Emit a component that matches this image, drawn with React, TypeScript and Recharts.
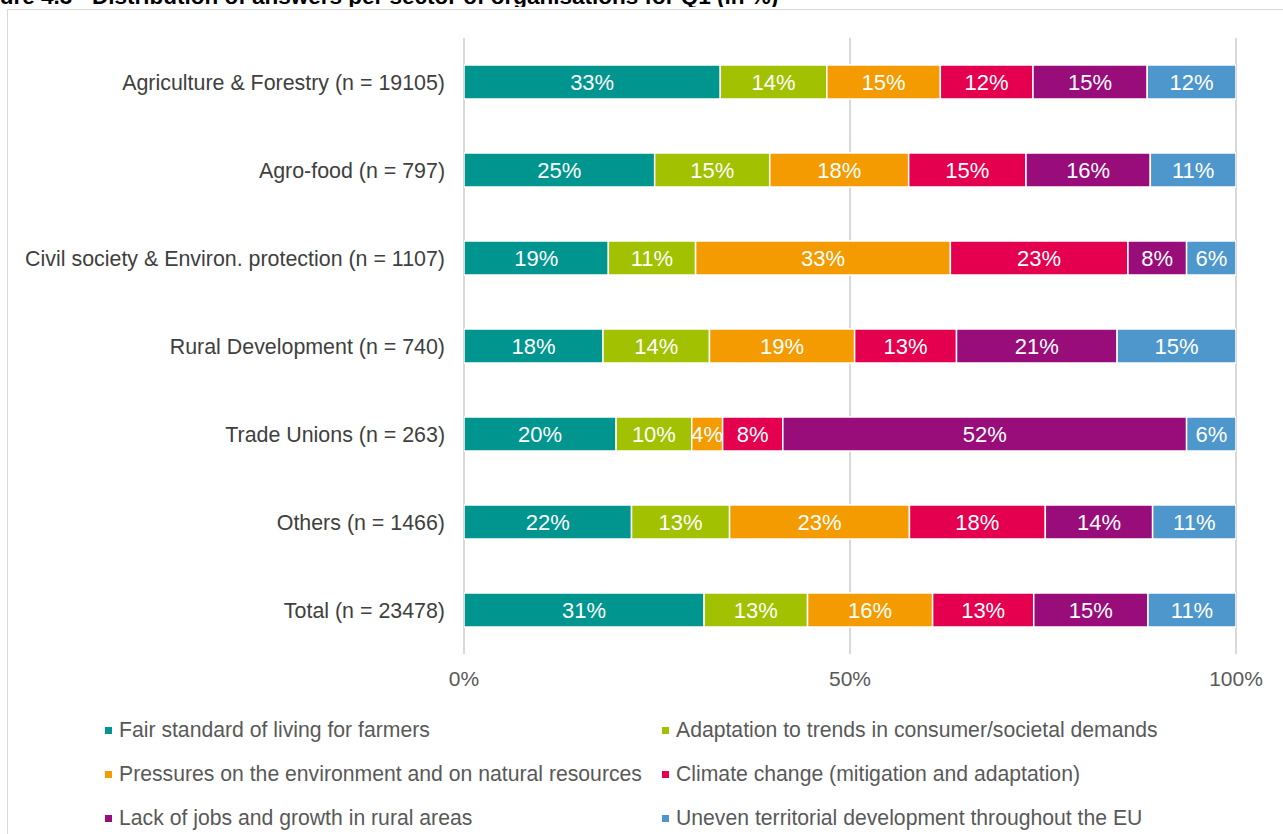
import { BarChart, Bar, XAxis, YAxis, CartesianGrid, LabelList } from 'recharts'

const categories = [
  'Agriculture & Forestry (n = 19105)',
  'Agro-food (n = 797)',
  'Civil society & Environ. protection (n = 1107)',
  'Rural Development (n = 740)',
  'Trade Unions (n = 263)',
  'Others (n = 1466)',
  'Total (n = 23478)',
]

const fairLiving = [33.2, 24.7, 18.7, 18.0, 19.7, 21.7, 31.1]
const adaptation = [13.8, 14.9, 11.3, 13.8, 9.8, 12.7, 13.4]
const pressures = [14.7, 18.0, 33.0, 18.8, 4.0, 23.3, 16.2]
const climate = [12.0, 15.2, 23.0, 13.2, 7.8, 17.6, 13.1]
const jobs = [14.8, 16.1, 7.6, 20.8, 52.3, 13.9, 14.8]
const uneven = [11.5, 11.1, 6.4, 15.4, 6.4, 10.8, 11.4]

const xTicks = [0, 50, 100]

const series = [
  { key: 'fair', name: 'Fair standard of living for farmers', color: '#00968f', values: fairLiving },
  { key: 'adapt', name: 'Adaptation to trends in consumer/societal demands', color: '#a2c100', values: adaptation },
  { key: 'press', name: 'Pressures on the environment and on natural resources', color: '#f39b00', values: pressures },
  { key: 'climate', name: 'Climate change (mitigation and adaptation)', color: '#e4004e', values: climate },
  { key: 'jobs', name: 'Lack of jobs and growth in rural areas', color: '#980d79', values: jobs },
  { key: 'uneven', name: 'Uneven territorial development throughout the EU', color: '#4e97cd', values: uneven },
]

const data = categories.map((c, i) => {
  const row: Record<string, string | number> = { sector: c }
  series.forEach(s => { row[s.key] = s.values[i] })
  return row
})

const font = 'Arial, "Liberation Sans", sans-serif'

export default function App() {
  return (
    <div style={{ position: 'absolute', left: 0, top: 0, width: 1283, height: 834, background: '#fff', fontFamily: font, overflow: 'hidden' }}>
      {/* figure caption, cut off at the top of the page */}
      <div style={{ position: 'absolute', left: 0, top: 0, width: 1283, height: 7, overflow: 'hidden' }}>
        <div style={{ position: 'absolute', left: -34, top: -16, fontSize: 22.5, fontWeight: 'bold', color: '#000', whiteSpace: 'nowrap' }}>
          Figure 4.3
          <span style={{ position: 'absolute', left: 126, top: 0 }}>
            Distribution of answers per sector of organisations for Q1 (in %)
          </span>
        </div>
      </div>
      <div style={{ position: 'absolute', left: 7, top: 9, width: 1290, height: 840, border: '1px solid #d9d9d9' }} />
      <div style={{ position: 'absolute', left: 0, top: 0 }}>
        <BarChart
          width={1283}
          height={700}
          data={data}
          layout="vertical"
          margin={{ top: 38, right: 47, left: 0, bottom: 0 }}
          barSize={34}
        >
          <CartesianGrid horizontal={false} vertical stroke="#d9d9d9" strokeWidth={2} />
          <XAxis
            type="number"
            domain={[0, 100]}
            ticks={xTicks}
            allowDataOverflow
            tickFormatter={v => `${v}%`}
            axisLine={false}
            tickLine={false}
            tickSize={0}
            tickMargin={17}
            height={46}
            tick={{ fill: '#595959', fontSize: 21, fontFamily: font }}
          />
          <YAxis
            type="category"
            dataKey="sector"
            width={464}
            axisLine={false}
            tickLine={false}
            tickSize={0}
            tickMargin={19}
            interval={0}
            tick={{ fill: '#404040', fontSize: 21.4, fontFamily: font }}
          />
          {series.map(s => (
            <Bar key={s.key} dataKey={s.key} name={s.name} stackId="a" fill={s.color} stroke="#fff" strokeWidth={1.5} isAnimationActive={false}>
              <LabelList
                dataKey={s.key}
                position="center"
                formatter={(v: number) => `${Math.round(v)}%`}
                style={{ fill: '#fff', fontSize: 22, fontFamily: font }}
              />
            </Bar>
          ))}
        </BarChart>
      </div>
      {/* legend */}
      <div style={{ position: 'absolute', left: 105, top: 717, width: 1150 }}>
        {[0, 1, 2].map(r => (
          <div key={r} style={{ display: 'flex', height: 44 }}>
            {[0, 1].map(c => {
              const s = series[r * 2 + c]
              return (
                <div key={s.key} style={{ width: 557, display: 'flex', alignItems: 'center', height: 26 }}>
                  <span style={{ width: 7, height: 7, background: s.color, marginRight: 7, flexShrink: 0 }} />
                  <span style={{ fontSize: 21.2, color: '#595959', whiteSpace: 'nowrap' }}>{s.name}</span>
                </div>
              )
            })}
          </div>
        ))}
      </div>
    </div>
  )
}
